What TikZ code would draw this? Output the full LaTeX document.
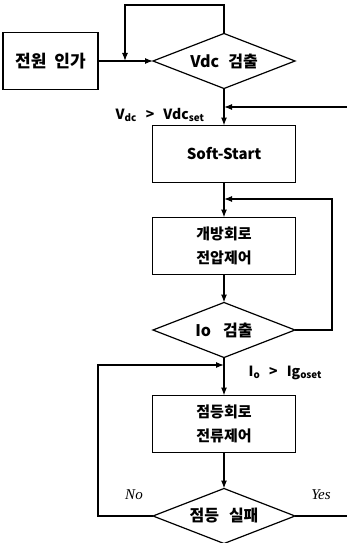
\documentclass[tikz,border=0pt]{standalone}
\usepackage{fontspec}
\newfontfamily\krfont{Noto Sans CJK KR}
\newfontfamily\itfont{Liberation Serif}
\usetikzlibrary{positioning}
\usetikzlibrary{shapes.geometric}
\usetikzlibrary{arrows.meta}

\begin{document}
\begin{tikzpicture}[x=1pt, y=-1pt, line width=1.2pt,
    >={Latex[length=8pt,width=6pt]},
    box/.style={draw, minimum width=143pt, minimum height=57pt, inner sep=0pt, outer sep=0pt, align=center,
        font=\krfont\bfseries\fontsize{15}{24}\selectfont},
    decision/.style={diamond, draw, aspect=2.6, minimum width=142pt, minimum height=55pt, inner sep=0pt, outer sep=0pt,
        font=\krfont\bfseries\fontsize{16}{24}\selectfont},
    cond/.style={font=\krfont\bfseries\fontsize{14}{16}\selectfont, inner sep=0pt},
    answer/.style={font=\itfont\itshape\fontsize{15}{16}\selectfont, inner sep=0pt}]

    \useasboundingbox (0,0) rectangle (347,543);

    \node [decision] (vdc) at (224,61) {Vdc\hspace{9pt}검출};
    \node [box, minimum width=95pt, left=55pt of vdc, font=\krfont\bfseries\fontsize{17}{20}\selectfont] (power) {전원\hspace{8pt}인가};
    \node [box, below=37pt of vdc] (soft) {Soft-Start};
    \node [box, below=35pt of soft] (open) {개방회로\\전압제어};
    \node [decision, below=28pt of open] (io) {Io\hspace{12pt}검출};
    \node [box, below=38pt of io] (lamp) {점등회로\\전류제어};
    \node [decision, below=36pt of lamp] (fail) {점등\hspace{10pt}실패};

    \coordinate (looptop) at (125,5);
    \coordinate (softin) at (347,107);
    \coordinate (openin) at (332,199);
    \coordinate (lampin) at (98,365);
    \coordinate (yesout) at (347,512);

    \node [cond, anchor=base east] (vlabel) at (205,119) {V\textsubscript{dc}\hspace{9pt}>\hspace{9pt}Vdc\textsubscript{set}};
    \node [cond, anchor=base west] (ilabel) at (248,376) {I\textsubscript{o}\hspace{9pt}>\hspace{9pt}Ig\textsubscript{oset}};
    \node [answer] (no) at (134,495) {No};
    \node [answer] (yes) at (321,495) {Yes};

    \draw [->] (power) -- (vdc);
    \draw [->] (vdc.north) |- (looptop) -- (looptop |- vdc.west);
    \draw [->] (vdc) -- (soft);
    \draw [->] (softin) -- (softin -| soft.north);
    \draw [->] (soft) -- (open);
    \draw [->] (open) -- (io);
    \draw [->] (io.east) -| (openin) -- (openin -| open.north);
    \draw [->] (io) -- (lamp);
    \draw [->] (lamp) -- (fail);
    \draw [->] (fail.west) -| (lampin) -- (lampin -| lamp.north);
    \draw (fail.east) -- (fail.east -| yesout);
\end{tikzpicture}
\end{document}
